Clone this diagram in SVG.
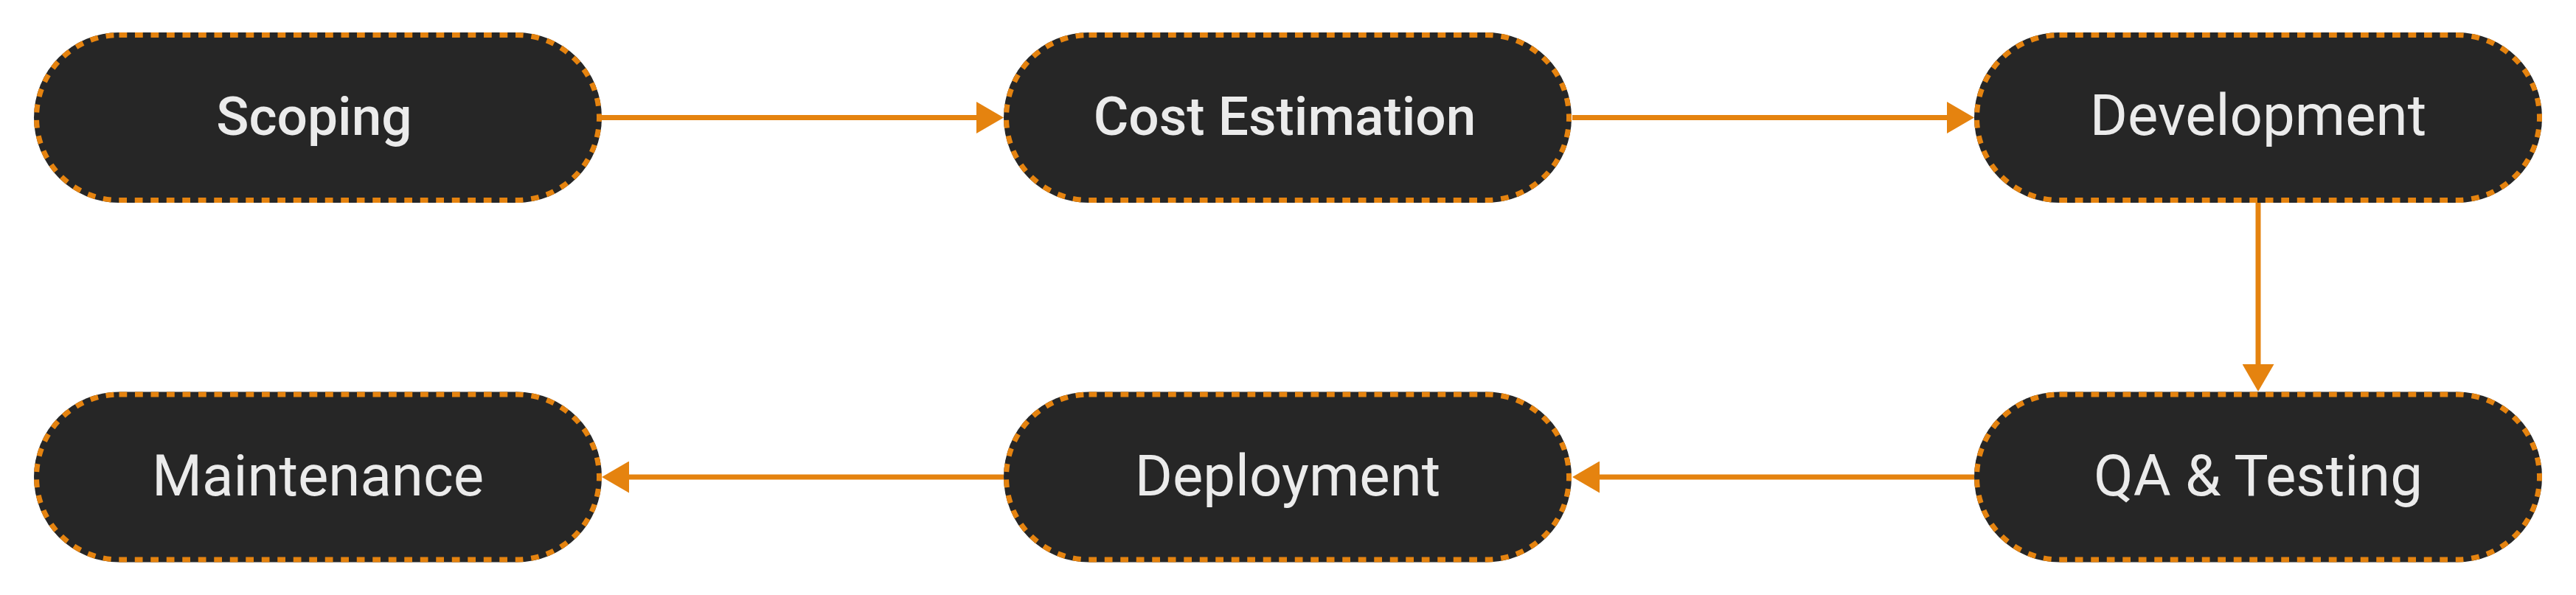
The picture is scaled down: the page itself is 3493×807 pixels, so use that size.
<svg xmlns="http://www.w3.org/2000/svg" width="3493" height="807" viewBox="0 0 3493 807">
  <style>
    .bg { fill: #262626; }
    .edge { fill: none; stroke: #E5830F; stroke-width: 7; stroke-dasharray: 10.75 10.75; }
    .lbl { font-family: Roboto, "Noto Sans", "Liberation Sans", sans-serif; font-size: 78px; fill: #EBEBEB; text-anchor: middle; }
    .b { font-weight: 500; font-size: 73px; }
    .conn { stroke: #E5830F; stroke-width: 7; fill: none; marker-end: url(#arr); }
  </style>
  <defs>
    <marker id="arr" markerUnits="userSpaceOnUse" markerWidth="37" markerHeight="43" refX="17" refY="21.5" orient="auto">
      <path d="M0,0 L37,21.5 L0,43 z" fill="#E5830F"/>
    </marker>
  </defs>
  <rect width="3493" height="807" fill="#FFFFFF"/>
  <g id="connectors">
    <line class="conn" x1="816" y1="159.5" x2="1341" y2="159.5"/>
    <line class="conn" x1="2132" y1="159.5" x2="2657" y2="159.5"/>
    <line class="conn" x1="3062" y1="275" x2="3062" y2="511"/>
    <line class="conn" x1="2677" y1="647" x2="2152" y2="647"/>
    <line class="conn" x1="1361" y1="647" x2="836" y2="647"/>
  </g>
  <g id="scoping">
    <rect class="bg" x="46" y="44" width="770" height="231" rx="115.5"/>
    <rect class="edge" x="49.5" y="47.5" width="763" height="224" rx="112"/>
    <text class="lbl b" x="426" y="183">Scoping</text>
  </g>
  <g id="cost-estimation">
    <rect class="bg" x="1361" y="44" width="770" height="231" rx="115.5"/>
    <rect class="edge" x="1364.5" y="47.5" width="763" height="224" rx="112"/>
    <text class="lbl b" x="1742" y="183">Cost Estimation</text>
  </g>
  <g id="development">
    <rect class="bg" x="2677" y="44" width="770" height="231" rx="115.5"/>
    <rect class="edge" x="2680.5" y="47.5" width="763" height="224" rx="112"/>
    <text class="lbl" x="3062" y="183">Development</text>
  </g>
  <g id="qa-testing">
    <rect class="bg" x="2677" y="531.5" width="770" height="231" rx="115.5"/>
    <rect class="edge" x="2680.5" y="535" width="763" height="224" rx="112"/>
    <text class="lbl" x="3062" y="672">QA &amp; Testing</text>
  </g>
  <g id="deployment">
    <rect class="bg" x="1361" y="531.5" width="770" height="231" rx="115.5"/>
    <rect class="edge" x="1364.5" y="535" width="763" height="224" rx="112"/>
    <text class="lbl" x="1746" y="672">Deployment</text>
  </g>
  <g id="maintenance">
    <rect class="bg" x="46" y="531.5" width="770" height="231" rx="115.5"/>
    <rect class="edge" x="49.5" y="535" width="763" height="224" rx="112"/>
    <text class="lbl" x="431" y="672">Maintenance</text>
  </g>
</svg>
